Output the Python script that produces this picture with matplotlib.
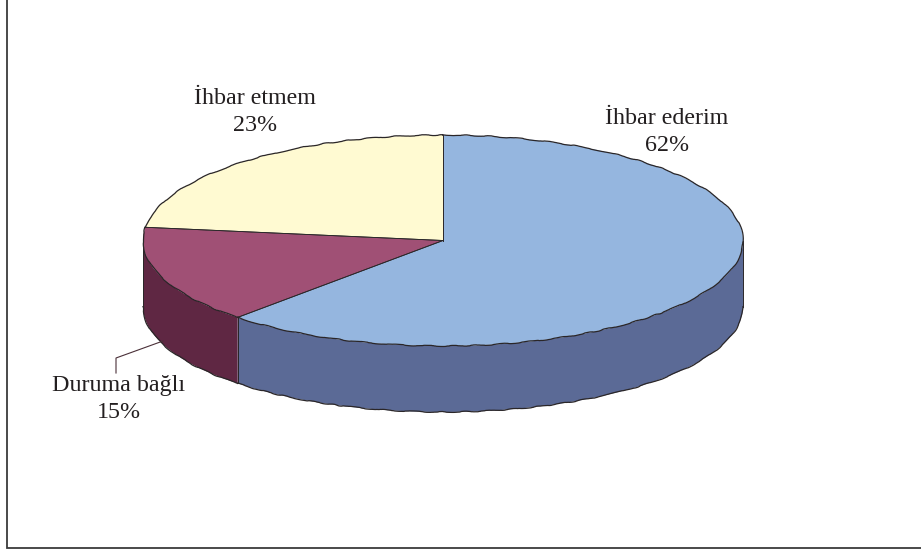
import numpy as np
import matplotlib
matplotlib.use("Agg")
import matplotlib.pyplot as plt

labels = ["İhbar ederim", "Duruma bağlı", "İhbar etmem"]
values = [62, 15, 23]
top_colors = ["#95B6DF", "#A05075", "#FFFAD2"]
side_colors = ["#5B6A96", "#5F2743", "#5F2743"]

W, H = 921, 553
CX, CY, RX, RY, DEPTH = 443.0, 240.5, 300.0, 105.5, 66
EDGE = "#2A2628"
TEXT = "#231F20"

plt.rcParams["font.family"] = ["Liberation Serif", "DejaVu Serif"]
fig = plt.figure(figsize=(W / 100, H / 100), dpi=100)
ax = fig.add_axes([0, 0, 1, 1])
ax.set_xlim(0, W)
ax.set_ylim(H, 0)
ax.axis("off")


def ell(t, dy=0.0):
    return CX + RX * np.cos(t), CY - RY * np.sin(t) + dy


def rough(x, y, z):
    line, = ax.plot(x, y, color=EDGE, lw=0.9, zorder=z)
    line.set_sketch_params(0.5, 45, 6)


fracs = np.array(values) / sum(values)
ends = np.pi / 2 - 2 * np.pi * np.cumsum(fracs)
starts = np.concatenate([[np.pi / 2], ends[:-1]])

# side walls: the front half of the ellipse only
for a0, a1, col in zip(starts, ends, side_colors):
    t = np.linspace(a0, a1, 400)
    t = t[np.sin(t) <= 0]
    if len(t) < 2:
        continue
    xt, yt = ell(t)
    xb, yb = ell(t, DEPTH)
    ax.fill(np.r_[xt, xb[::-1]], np.r_[yt, yb[::-1]], fc=col, ec="none", zorder=2)
    rough(xb, yb, 3)
    ax.plot([xt[0], xb[0]], [yt[0], yb[0]], color=EDGE, lw=0.7, zorder=3)
    ax.plot([xt[-1], xb[-1]], [yt[-1], yb[-1]], color=EDGE, lw=0.7, zorder=3)

# top faces
for a0, a1, col in zip(starts, ends, top_colors):
    t = np.linspace(a0, a1, 300)
    x, y = ell(t)
    ax.fill(np.r_[CX, x], np.r_[CY, y], fc=col, ec="none", zorder=4)
    rough(x, y, 5)
    ax.plot([CX, x[0]], [CY, y[0]], color=EDGE, lw=0.6, zorder=5)
    ax.plot([CX, x[-1]], [CY, y[-1]], color=EDGE, lw=0.6, zorder=5)

# labels
label_pos = [(667, 132), (119, 399), (255, 112)]
for name, val, (lx, ly) in zip(labels, values, label_pos):
    ax.text(lx, ly, f"{name}\n{val}%", ha="center", va="center", fontsize=17.3,
            color=TEXT, linespacing=1.42, zorder=6)

# leader line
ax.plot([163, 116, 116], [341, 358, 373], color="#4A3038", lw=0.8, zorder=6)

# frame: left and bottom rules
ax.plot([7, 7, W], [0, 548, 548], color="#3A3A3A", lw=1.3, zorder=1,
        solid_joinstyle="miter")

fig.savefig("out.png", dpi=100, facecolor="white")
